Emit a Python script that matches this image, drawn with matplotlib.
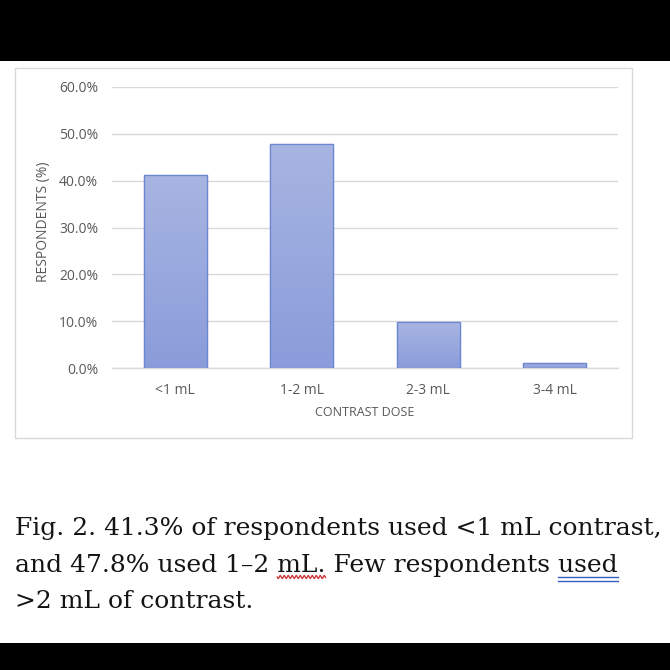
import matplotlib
matplotlib.use("Agg")
import matplotlib.pyplot as plt
import numpy as np
from matplotlib.patches import Rectangle
from matplotlib.colors import LinearSegmentedColormap

categories = ["<1 mL", "1-2 mL", "2-3 mL", "3-4 mL"]
values = [41.3, 47.8, 9.8, 1.1]
yticks = [0, 10, 20, 30, 40, 50, 60]
ytick_labels = ["0.0%", "10.0%", "20.0%", "30.0%", "40.0%", "50.0%", "60.0%"]
caption_lines = [
    "Fig. 2. 41.3% of respondents used <1 mL contrast,",
    "and 47.8% used 1\u20132 mL. Few respondents used",
    ">2 mL of contrast.",
]

W = H = 670
fig = plt.figure(figsize=(6.7, 6.7), dpi=100)
fig.patch.set_facecolor("white")

def px(x, y, w, h):
    return (x / W, 1 - (y + h) / H, w / W, h / H)

# black bands
for (x, y, w, h) in [(0, 0, 670, 61), (0, 643, 670, 27)]:
    l, b, ww, hh = px(x, y, w, h)
    fig.patches.append(Rectangle((l, b), ww, hh, transform=fig.transFigure,
                                 facecolor="black", edgecolor="none", zorder=0))
# chart frame
l, b, ww, hh = px(15, 68, 617, 370)
fig.patches.append(Rectangle((l, b), ww, hh, transform=fig.transFigure,
                             facecolor="none", edgecolor="#D9D9D9", lw=1.0, zorder=0))

ax = fig.add_axes(px(112, 87, 506, 281))
ax.set_zorder(2)
ax.set_facecolor("none")
x = np.arange(len(categories))
bars = ax.bar(x, values, width=0.5, color="#97A7DD", edgecolor="#6F86CF", linewidth=0.9, zorder=3)

# gradient fill inside bars
grad = np.linspace(0, 1, 100).reshape(-1, 1)
cmap = LinearSegmentedColormap.from_list("g", ["#8A9CDA", "#A8B5E2"])
for rect in bars:
    x0, y0 = rect.get_x(), rect.get_y()
    w, h = rect.get_width(), rect.get_height()
    im = ax.imshow(grad, extent=(x0, x0 + w, y0, y0 + h), origin="lower",
                   cmap=cmap, aspect="auto", zorder=3.5)
    im.set_clip_path(rect)
    ax.add_patch(Rectangle((x0, y0), w, h, facecolor="none", edgecolor="#6C87D2", lw=0.9, zorder=4))

ax.set_xlim(-0.5, len(categories) - 0.5)
ax.set_ylim(0, 60)
ax.set_yticks(yticks)
ax.set_yticklabels(ytick_labels)
ax.set_xticks(x)
ax.set_xticklabels(categories)
ax.yaxis.grid(True, color="#D9D9D9", lw=1.0, zorder=0)
ax.set_axisbelow(True)
for s in ["top", "right", "left"]:
    ax.spines[s].set_visible(False)
ax.spines["bottom"].set_color("#D9D9D9")
ax.spines["bottom"].set_linewidth(1.0)
ax.tick_params(length=0, labelsize=10, labelcolor="#595959")
for t in ax.get_xticklabels() + ax.get_yticklabels():
    t.set_family("Open Sans")
ax.tick_params(axis="y", pad=10)
ax.tick_params(axis="x", pad=11)

fig.text(43 / W, 1 - 222 / H, "RESPONDENTS (%)", rotation=90, ha="center", va="center",
         fontsize=10, color="#595959", family="Open Sans")
fig.text(365 / W, 1 - 412 / H, "CONTRAST DOSE", ha="center", va="center",
         fontsize=9, color="#595959", family="Open Sans")

# caption: fit first line to the reference width
fig.canvas.draw()
r = fig.canvas.get_renderer()
base = dict(family="DejaVu Serif", color="#141414", ha="left", va="baseline")
probe = fig.text(0, 0, caption_lines[0], fontsize=20, **base)
wprobe = probe.get_window_extent(r).width
probe.remove()
fs = 20 * 645 / wprobe
cap_kw = dict(fontsize=fs, **base)
baselines = [535, 572, 608]
for line, yb in zip(caption_lines, baselines):
    fig.text(15 / W, 1 - yb / H, line, **cap_kw)

def width_of(s):
    if not s:
        return 0
    t = fig.text(0, 0, s, **cap_kw)
    w = t.get_window_extent(r).width
    t.remove()
    return w

line = caption_lines[1]
i = line.index("mL.")
xa = 15 + width_of(line[:i])
xb = 15 + width_of(line[:i + 3])
xx = np.linspace(xa, xb, 200)
yy = 577 + 1.5 * np.sin((xx - xa) / 4.0 * 2 * np.pi)
fig.add_artist(plt.Line2D(xx / W, 1 - yy / H, transform=fig.transFigure, color="#D03030", lw=0.9))
j = line.rindex("used")
xa = 15 + width_of(line[:j])
xb = 15 + width_of(line)
for yline in (577, 581):
    fig.add_artist(plt.Line2D([xa / W, xb / W], [1 - yline / H] * 2,
                              transform=fig.transFigure, color="#3060C0", lw=1.0))

fig.savefig("out.png", dpi=100, facecolor="white")
